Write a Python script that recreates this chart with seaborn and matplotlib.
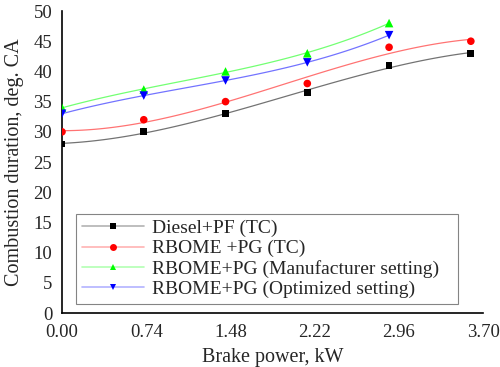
import numpy as np
import seaborn as sns
import matplotlib.pyplot as plt
from matplotlib.lines import Line2D

power = [0.00, 0.74, 1.48, 2.22, 2.96, 3.70]
tick_labels = ['0.00', '0.74', '1.48', '2.22', '2.96', '3.70']
diesel_tc = [28, 30, 33, 36.5, 41, 43]
rbome_tc = [30, 32, 35, 38, 44, 45]
rbome_manuf = [34, 37, 40, 43, 48]
rbome_opt = [33, 36, 38.5, 41.5, 46]

labels = ['Diesel+PF (TC)', 'RBOME +PG (TC)',
          'RBOME+PG (Manufacturer setting)', 'RBOME+PG (Optimized setting)']
series = [diesel_tc, rbome_tc, rbome_manuf, rbome_opt]
colors = ['black', 'red', '#00ff00', 'blue']
markers = ['s', 'o', '^', 'v']
msizes = [24, 30, 38, 38]

sns.set_style('white')
plt.rcParams['font.family'] = ['Liberation Serif', 'DejaVu Serif']

fig = plt.figure(figsize=(5, 3.67), dpi=100)
ax = fig.add_axes([0.124, 0.147, 0.842, 0.823])

for lab, vals, c, m, ms in zip(labels, series, colors, markers, msizes):
    x = np.array(power[:len(vals)])
    y = np.array(vals)
    # smoothed curve (the original software draws a fitted spline)
    coef = np.polyfit(x, y, 3)
    xs = np.linspace(x.min(), x.max(), 100)
    sns.lineplot(x=xs, y=np.polyval(coef, xs), color=c, alpha=0.55, lw=0.9, ax=ax)
    sns.scatterplot(x=x, y=y, color=c, marker=m, s=ms, edgecolor='none', ax=ax, zorder=3)

# legend: faded line + solid marker
leg_handles = []
for c, m in zip(colors, markers):
    leg_handles.append((Line2D([], [], color=c, alpha=0.3, lw=1.2),
                        Line2D([], [], color=c, lw=0, marker=m, markersize=5, markeredgewidth=0)))
leg = ax.legend(leg_handles, labels, loc='lower left', mode='expand',
                bbox_to_anchor=(0.033, 0.03, 0.907, 0.3), borderaxespad=0,
                fontsize=14, frameon=True, fancybox=False, edgecolor='#666666',
                handlelength=3.2, handletextpad=0.4, borderpad=0.3, labelspacing=0.13)
leg.get_frame().set_linewidth(0.8)

# original axis runs a little past the last load point
xmax = 3.81
ax.set_xlim(0, xmax)
ax.set_ylim(0, 50)
ax.set_xticks(np.linspace(0, xmax, len(tick_labels)))
ax.set_xticklabels(tick_labels)
ax.set_yticks(range(0, 51, 5))
ax.tick_params(length=0, labelsize=13.5)
ax.tick_params(axis='y', pad=7)
ax.tick_params(axis='x', pad=8)
ax.set_xlabel('Brake power, kW', fontsize=14.5, labelpad=5)
ax.set_ylabel('Combustion duration, deg. CA', fontsize=14.5, labelpad=7)
for s in ['top', 'right']:
    ax.spines[s].set_visible(False)
for s in ['left', 'bottom']:
    ax.spines[s].set_color('black')
    ax.spines[s].set_linewidth(1.2)

fig.savefig('out.png', dpi=100)
